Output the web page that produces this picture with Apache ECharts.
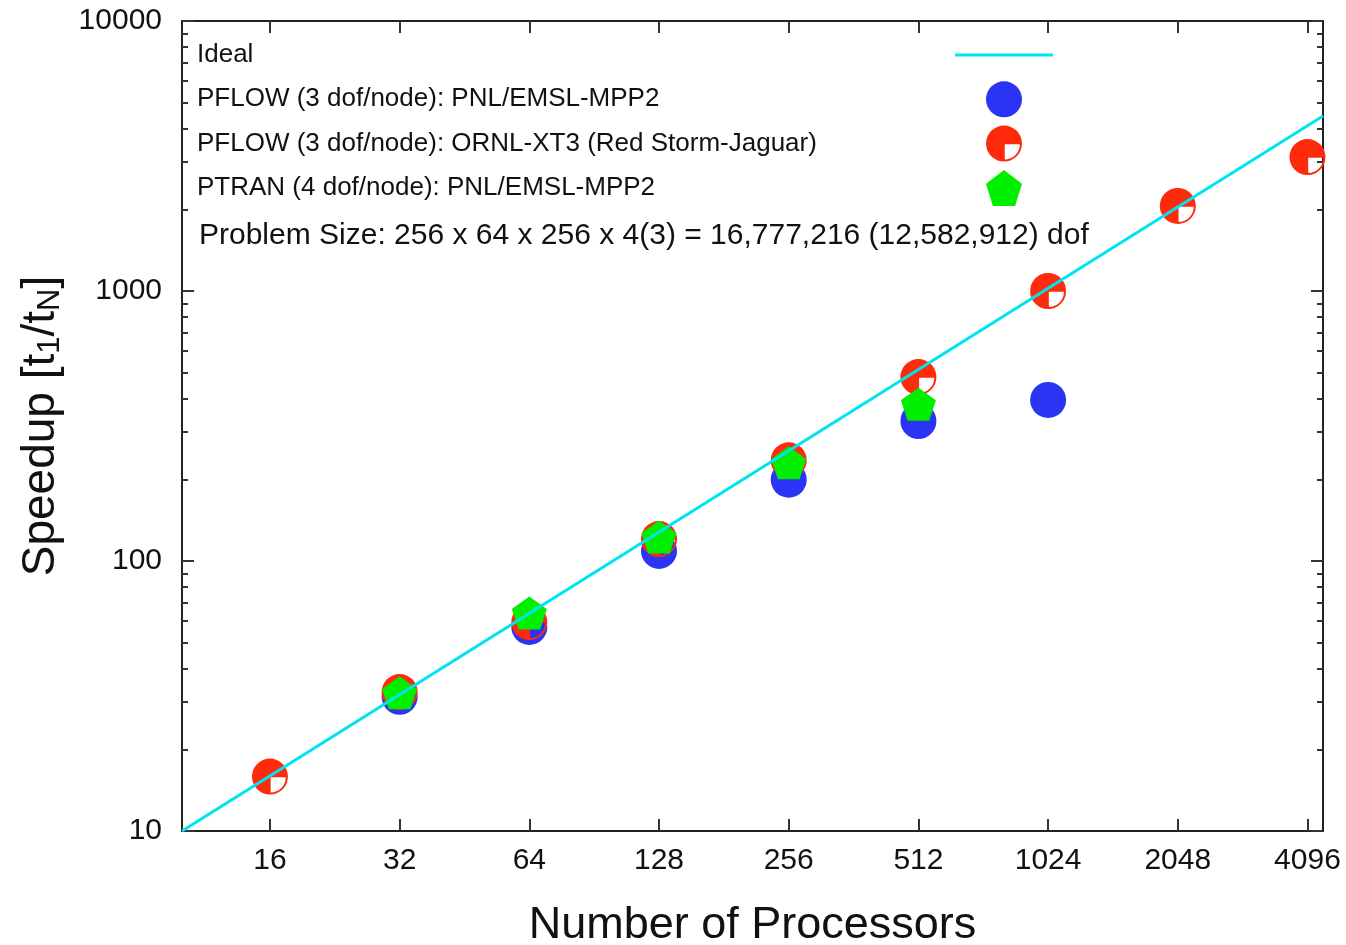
<!DOCTYPE html>
<html>
<head>
<meta charset="utf-8">
<title>Speedup</title>
<script src="https://cdn.jsdelivr.net/npm/echarts@6/dist/echarts.min.js"></script>
<style>
  html, body { margin: 0; padding: 0; background: #fff; }
  #chart { width: 1346px; height: 945px; }
</style>
</head>
<body>
<div id="chart"></div>
<script>
// tick labels
const procTicks = [16, 32, 64, 128, 256, 512, 1024, 2048, 4096];
const speedTicks = [10, 100, 1000, 10000];
const speedMinor = [20, 30, 40, 50, 60, 70, 80, 90,
  200, 300, 400, 500, 600, 700, 800, 900,
  2000, 3000, 4000, 5000, 6000, 7000, 8000, 9000];

// [processors, speedup]
const idealLine = [[10, 10], [4450, 4450]];
const pflowMpp2 = [[32, 31.4], [64, 57], [128, 109], [256, 200], [512, 330], [1024, 395]];
const pflowXt3 = [[16, 15.9], [32, 32.7], [64, 59.4], [128, 120.6], [256, 236], [512, 480],
  [1024, 1000], [2048, 2065], [4096, 3135]];
const ptranMpp2 = [[32, 32.5], [64, 64.2], [128, 122.7], [256, 231], [512, 381]];

const FONT = 'Liberation Sans, Arial, Helvetica, sans-serif';
const RED_SYMBOL = 'path://M50,0A50,50 0 1,1 50,100A50,50 0 1,1 50,0Z M52,52L52,94A42,42 0 0,0 94,52Z';
const PENTAGON = 'path://M50,0L100,38.2L80.9,100L19.1,100L0,38.2Z';
// thin bar, padded with empty points so the legend row keeps a 36px height
const LINE_ICON = 'path://M0,-16.5L0,-16.5M0,0L98,0L98,3L0,3ZM0,19.5L0,19.5';

const chart = echarts.init(document.getElementById('chart'));

const frameLine = { show: true, lineStyle: { color: '#222', width: 2 } };
const majorTick = (vals) => ({ show: true, inside: true, length: 12, customValues: vals, lineStyle: { color: '#333', width: 2 } });
const minorTickStyle = (vals) => ({ show: true, inside: true, length: 6, customValues: vals, lineStyle: { color: '#333', width: 2 } });

const xBase = { type: 'log', logBase: 2, min: 10, max: 4450, splitLine: { show: false }, gridIndex: 0 };
const yBase = { type: 'log', logBase: 10, min: 10, max: 10000, splitLine: { show: false }, gridIndex: 0 };

const option = {
  animation: false,
  backgroundColor: '#fff',
  title: {
    text: 'Problem Size: 256 x 64 x 256 x 4(3) = 16,777,216 (12,582,912) dof',
    left: 194, top: 216,
    textStyle: { fontFamily: FONT, fontSize: 30, fontWeight: 'normal', color: '#111' },
  },
  legend: {
    orient: 'vertical',
    left: 197, top: 37, padding: 0,
    align: 'right',
    itemWidth: 98, itemHeight: 36, itemGap: 8.3,
    formatter: name => '{t|' + name + '}',
    textStyle: { rich: { t: { width: 753, align: 'left', fontSize: 26, fontFamily: FONT, color: '#111' } } },
    data: [
      { name: 'Ideal', icon: LINE_ICON },
      'PFLOW (3 dof/node): PNL/EMSL-MPP2',
      'PFLOW (3 dof/node): ORNL-XT3 (Red Storm-Jaguar)',
      'PTRAN (4 dof/node): PNL/EMSL-MPP2',
    ],
  },
  grid: { left: 182, right: 23, top: 21, bottom: 114, outerBoundsMode: 'none' },
  xAxis: [
    {
      ...xBase, position: 'bottom',
      name: 'Number of Processors', nameLocation: 'middle', nameGap: 72,
      nameTextStyle: { fontFamily: FONT, fontSize: 45, color: '#111' },
      axisLine: frameLine,
      axisTick: majorTick(procTicks),
      axisLabel: { customValues: procTicks, fontFamily: FONT, fontSize: 30, color: '#111', margin: 15,
        formatter: v => String(Math.round(v)) },
    },
    {
      ...xBase, position: 'top',
      axisLine: frameLine,
      axisTick: majorTick(procTicks),
      axisLabel: { show: false },
    },
  ],
  yAxis: [
    {
      ...yBase, position: 'left',
      name: '{a|Speedup [t}{s|1}{a|/t}{s|N}{a|]}', nameLocation: 'middle', nameGap: 116,
      nameTextStyle: {
        rich: {
          a: { fontFamily: FONT, fontSize: 46, color: '#111' },
          s: { fontFamily: FONT, fontSize: 31, color: '#111', padding: [18, 0, 0, 0] },
        },
      },
      axisLine: frameLine,
      axisTick: majorTick(speedTicks),
      axisLabel: { customValues: speedTicks, fontFamily: FONT, fontSize: 30, color: '#111', margin: 20,
        formatter: v => String(Math.round(v)) },
    },
    {
      ...yBase, position: 'left',
      axisLine: { show: false },
      axisTick: minorTickStyle(speedMinor),
      axisLabel: { show: false },
    },
    {
      ...yBase, position: 'right',
      axisLine: frameLine,
      axisTick: majorTick(speedTicks),
      axisLabel: { show: false },
    },
    {
      ...yBase, position: 'right',
      axisLine: { show: false },
      axisTick: minorTickStyle(speedMinor),
      axisLabel: { show: false },
    },
  ],
  series: [
    {
      name: 'Ideal',
      type: 'line',
      data: idealLine,
      symbol: 'none',
      lineStyle: { color: '#00e4f0', width: 3 },
      itemStyle: { color: '#00e4f0' },
    },
    {
      name: 'PFLOW (3 dof/node): PNL/EMSL-MPP2',
      type: 'scatter',
      data: pflowMpp2,
      symbol: 'circle',
      symbolSize: 36,
      itemStyle: { color: '#2b33f4', opacity: 1 },
    },
    {
      name: 'PFLOW (3 dof/node): ORNL-XT3 (Red Storm-Jaguar)',
      type: 'scatter',
      data: pflowXt3,
      symbol: RED_SYMBOL,
      symbolSize: 36,
      itemStyle: { color: '#ff2a0c', opacity: 1 },
    },
    {
      name: 'PTRAN (4 dof/node): PNL/EMSL-MPP2',
      type: 'scatter',
      data: ptranMpp2,
      symbol: PENTAGON,
      symbolSize: [35, 33],
      itemStyle: { color: '#00ee00', opacity: 1 },
    },
  ],
};

chart.setOption(option);
window.addEventListener('resize', () => chart.resize());
</script>
</body>
</html>
